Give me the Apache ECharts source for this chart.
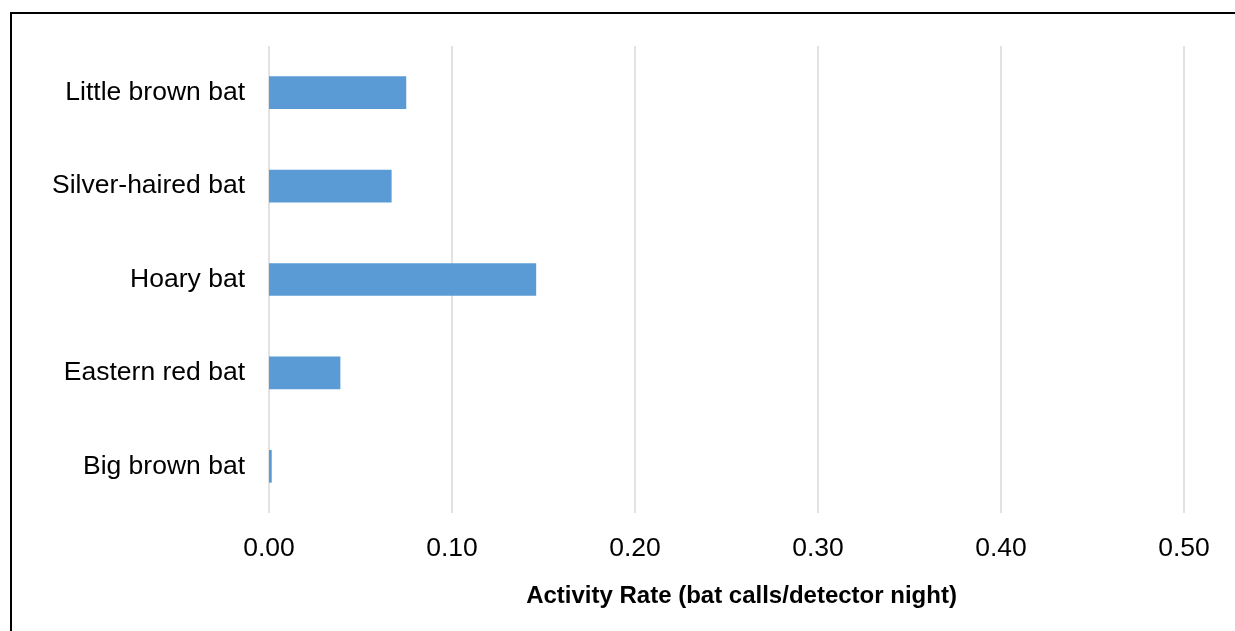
<!DOCTYPE html>
<html>
<head>
<meta charset="utf-8">
<script src="https://cdn.jsdelivr.net/npm/echarts@6/dist/echarts.min.js"></script>
<style>
html,body{margin:0;padding:0;background:#fff;}
#chart{width:1235px;height:631px;}
</style>
</head>
<body>
<div id="chart"></div>
<script>
const categories = ["Little brown bat", "Silver-haired bat", "Hoary bat", "Eastern red bat", "Big brown bat"];
const activityRate = [0.075, 0.067, 0.146, 0.039, 0.0015];
const axisTitle = "Activity Rate (bat calls/detector night)";

const chart = echarts.init(document.getElementById('chart'), null, {renderer: 'canvas'});
chart.setOption({
  animation: false,
  backgroundColor: '#ffffff',
  graphic: [{
    type: 'polyline',
    shape: {points: [[11, 640], [11, 13], [1245, 13]]},
    style: {stroke: '#000', lineWidth: 2, fill: null},
    silent: true
  }],
  grid: {left: 269, right: 51, top: 46, bottom: 118, containLabel: false},
  xAxis: {
    type: 'value',
    min: 0, max: 0.5, interval: 0.1,
    axisLine: {show: false},
    axisTick: {show: false},
    splitLine: {show: true, lineStyle: {color: '#d9d9d9', width: 1.5}},
    axisLabel: {
      formatter: v => v.toFixed(2),
      fontFamily: 'Liberation Sans, Arial, sans-serif',
      fontSize: 26.5, color: '#000', margin: 22
    },
    name: axisTitle,
    nameLocation: 'middle',
    nameGap: 71,
    nameTextStyle: {fontFamily: 'Liberation Sans, Arial, sans-serif', fontSize: 24, fontWeight: 'bold', color: '#000', padding: [0, 0, 0, 30]}
  },
  yAxis: {
    type: 'category',
    data: categories,
    inverse: true,
    axisLine: {show: false},
    axisTick: {show: false},
    axisLabel: {fontFamily: 'Liberation Sans, Arial, sans-serif', fontSize: 26.5, color: '#000', margin: 24, padding: [4, 0, 0, 0]}
  },
  series: [{
    type: 'bar',
    data: activityRate,
    barWidth: '35%',
    itemStyle: {color: '#5b9bd5'}
  }]
});
</script>
</body>
</html>
